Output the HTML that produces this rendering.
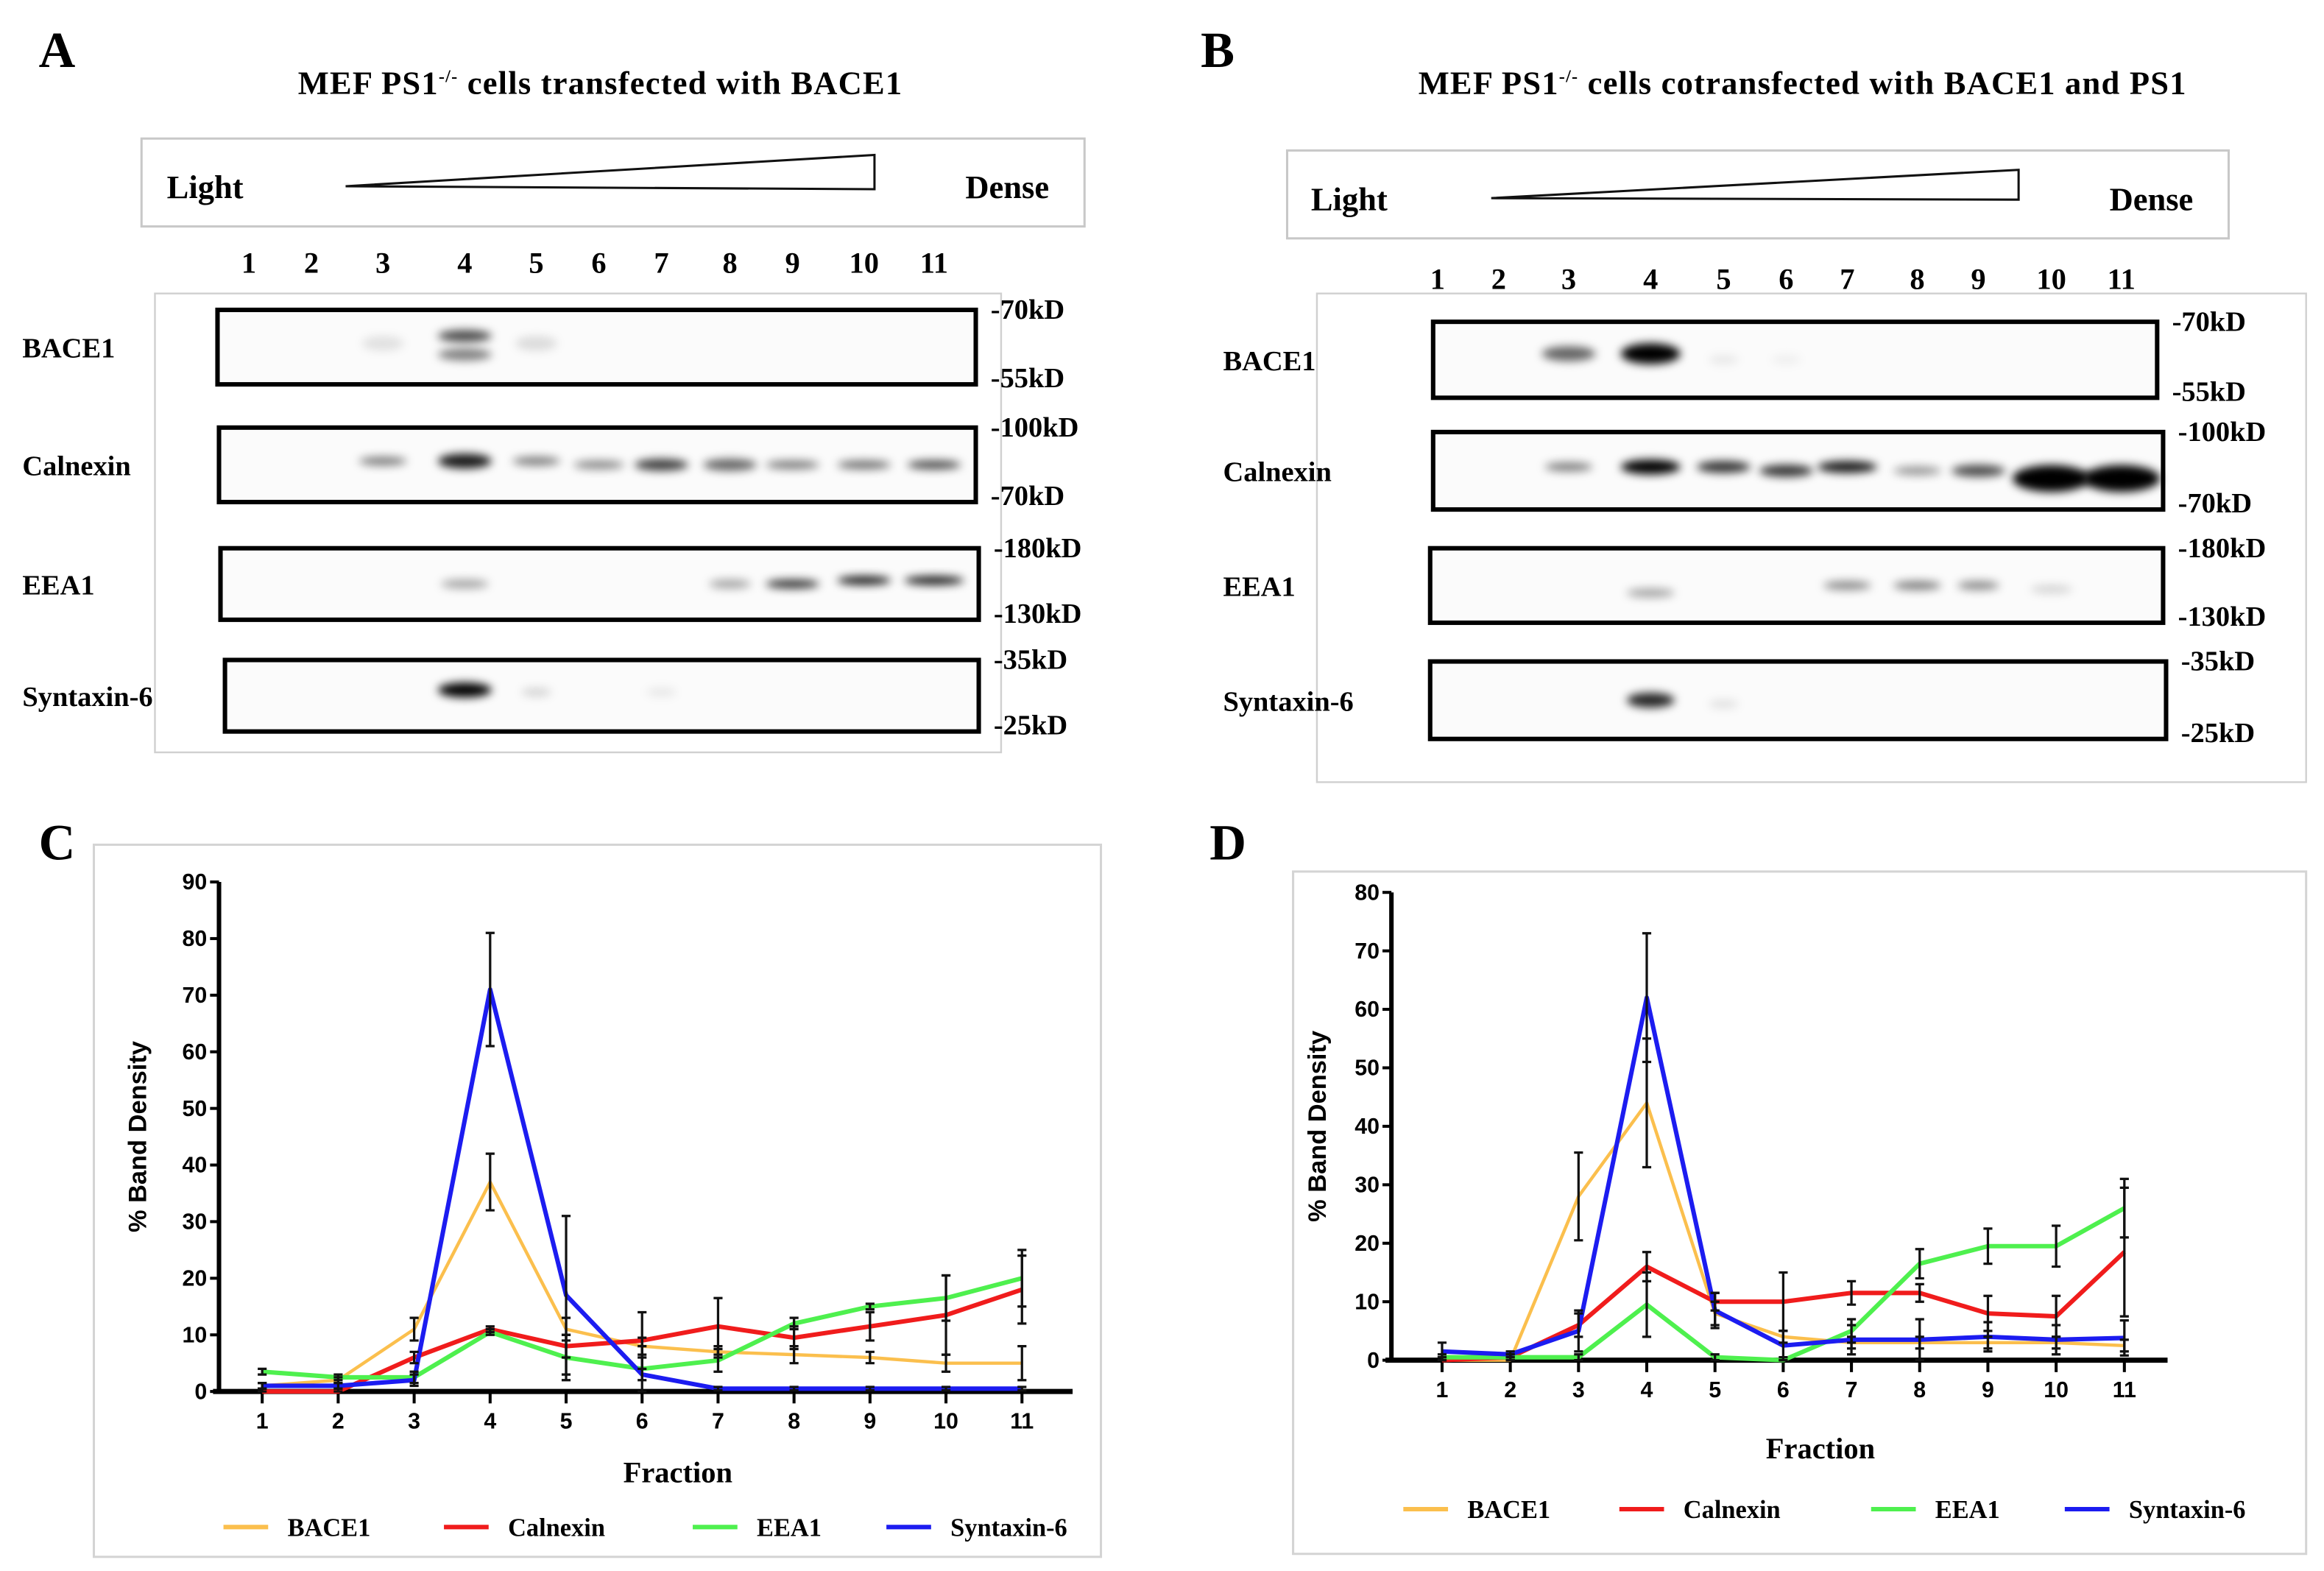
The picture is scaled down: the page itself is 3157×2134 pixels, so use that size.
<!DOCTYPE html>
<html><head><meta charset="utf-8"><style>
html,body{margin:0;padding:0;background:#fff}
svg{display:block}
.ser{font-family:"Liberation Serif",serif;font-weight:bold}
.san{font-family:"Liberation Sans",sans-serif;font-weight:bold}
</style></head><body>
<svg id="fig" width="3157" height="2134" viewBox="0 0 1560 1054.5" xmlns="http://www.w3.org/2000/svg">
<defs>
<filter id="blur" x="-50%" y="-100%" width="200%" height="300%"><feGaussianBlur stdDeviation="3"/></filter>
</defs>
<g id="panels"></g>
<g id="chartC"></g>
<g id="chartD"></g>
</svg>
<script>
const categories = [1,2,3,4,5,6,7,8,9,10,11];
const seriesNames = ["BACE1","Calnexin","EEA1","Syntaxin-6"];
const seriesColors = ["#fbbf4d","#f01c1c","#4ef04e","#1c1cf0"];
// Panel C values
const cBace1 = [1,2,11,37,11,8,7,6.5,6,5,5];
const cCalnexin = [0,0,6,11,8,9,11.5,9.5,11.5,13.5,18];
const cEea1 = [3.5,2.5,2.5,10.5,6,4,5.5,12,15,16.5,20];
const cSyntaxin = [1,1,2,71,17,3,0.5,0.5,0.5,0.5,0.5];
const cBace1Err = [0.5,0.5,2,5,2,1.5,1,1.5,1,1.5,3];
const cCalnexinErr = [0.5,0.5,1,0.5,2,5,5,2,2.5,7,6];
const cEea1Err = [0.5,0.5,1,0.5,4,2,2,1,0.5,4,5];
const cSyntaxinErr = [0.5,0.5,1,10,14,5,0.3,0.3,0.3,0.3,0.3];
const cYTicks = [0,10,20,30,40,50,60,70,80,90];
// Panel D values
const dBace1 = [0,0,28,44,8,4,3,3,3,3,2.5];
const dCalnexin = [0,0.5,6,16,10,10,11.5,11.5,8,7.5,18.5];
const dEea1 = [0.5,0.5,0.5,9.5,0.5,0,5,16.5,19.5,19.5,26];
const dSyntaxin = [1.5,1,5,62,8.5,2.5,3.5,3.5,4,3.5,3.8];
const dBace1Err = [0.5,0.5,7.5,11,2,1,1,1,1,1,1];
const dCalnexinErr = [0.5,0.5,2,2.5,1.5,5,2,1.5,3,3.5,11];
const dEea1Err = [0.5,0.5,0.5,5.5,0.5,0.5,2,2.5,3,3.5,5];
const dSyntaxinErr = [1.5,0.5,3.5,11,3,2.5,2.5,3.5,2.5,2.5,3];
const dYTicks = [0,10,20,30,40,50,60,70,80];

const NS="http://www.w3.org/2000/svg";
function mk(parent,tag,attrs,text){const e=document.createElementNS(NS,tag);for(const k in attrs)e.setAttribute(k,attrs[k]);if(text!==undefined)e.textContent=text;parent.appendChild(e);return e;}

const P=document.getElementById('panels');
function txt(x,y,s,size,cls,anchor,name){const t=mk(P,'text',{x:x,y:y,'font-size':size,class:cls,'text-anchor':anchor||'start'},s);


return t;}

function blotPanel(o){
  txt(o.letterX,45,o.letter,34,'ser','start','panel-letter-'+o.letter.toLowerCase());
  const tt=mk(P,'text',{x:o.titleX,y:63,'font-size':22,'letter-spacing':0.6,class:'ser','text-anchor':'middle'});
  
  
  tt.innerHTML=o.title;
  const gb=mk(P,'rect',{x:o.box[0],y:o.box[1],width:o.box[2],height:o.box[3],fill:'#fff',stroke:'#c8c8c8','stroke-width':1.5});
  
  
  const tri=mk(P,'polygon',{points:o.tri,fill:'#fff',stroke:'#111','stroke-width':1.5});
  
  
  txt(o.light[0],o.light[1],'Light',22,'ser','start','light-label');
  txt(o.dense[0],o.dense[1],'Dense',22,'ser','start','dense-label');
  o.lanes.forEach((x,i)=>txt(x,o.laneY,String(i+1),20,'ser','middle','lane-number'));
  const fr=mk(P,'rect',{x:o.frame[0],y:o.frame[1],width:o.frame[2],height:o.frame[3],fill:'none',stroke:'#d0d0d0','stroke-width':1.2});
  
  
  o.strips.forEach(s=>{
    const r=mk(P,'rect',{x:s.x,y:s.y,width:s.w,height:s.h,fill:'#fbfbfb',stroke:'#000','stroke-width':3});
    
    
    s.bands.forEach(b=>{
      const e=mk(P,'ellipse',{cx:o.lanes[b[0]-1],cy:s.y+s.h*b[3],rx:b[1],ry:b[4]||5,fill:'#000','fill-opacity':b[2],filter:'url(#blur)'});
      
      
    });
    txt(o.labelX,s.y+s.h/2+7,s.name,19,'ser','start','row-label-'+s.name.toLowerCase());
    txt(s.x+s.w+10,s.y+6,s.mw[0],19,'ser','start','mw-marker');
    txt(s.x+s.w+10,s.y+s.h+2,s.mw[1],19,'ser','start','mw-marker');
  });
}

blotPanel({letter:'A',letterX:26,titleX:403,title:'MEF PS1<tspan font-size="12" dy="-8">-/-</tspan><tspan dy="8"> cells transfected with BACE1</tspan>',
 box:[95,93,633,59],tri:'232,125 587,104 587,127',light:[112,133],dense:[648,133],laneY:183,
 lanes:[167,209,257,312,360,402,444,490,532,580,627],frame:[104,197,568,308],labelX:15,
 strips:[
  {name:'BACE1',x:146,y:208,w:509,h:50,mw:['-70kD','-55kD'],bands:[[3,14,0.1,0.45],[4,18,0.7,0.35,4],[4,18,0.5,0.6,4],[5,14,0.12,0.45]]},
  {name:'Calnexin',x:147,y:287,w:508,h:50,mw:['-100kD','-70kD'],bands:[[3,16,0.5,0.45,3],[4,18,0.9,0.45],[5,16,0.5,0.45,3],[6,17,0.45,0.5,3],[7,18,0.75,0.5,4],[8,18,0.6,0.5,4],[9,18,0.5,0.5,3],[10,18,0.55,0.5,3],[11,18,0.7,0.5,3]]},
  {name:'EEA1',x:148,y:368,w:509,h:48,mw:['-180kD','-130kD'],bands:[[4,16,0.35,0.5,3],[8,14,0.35,0.5,3],[9,18,0.8,0.5,3],[10,18,0.9,0.45,3],[11,20,0.9,0.45,3]]},
  {name:'Syntaxin-6',x:151,y:443,w:506,h:48,mw:['-35kD','-25kD'],bands:[[4,18,1,0.42,5],[5,10,0.15,0.45,3],[7,10,0.08,0.45,3]]}
 ]});
blotPanel({letter:'B',letterX:806,titleX:1210,title:'MEF PS1<tspan font-size="12" dy="-8">-/-</tspan><tspan dy="8"> cells cotransfected with BACE1 and PS1</tspan>',
 box:[864,101,632,59],tri:'1001,133 1355,114 1355,134',light:[880,141],dense:[1416,141],laneY:194,
 lanes:[965,1006,1053,1108,1157,1199,1240,1287,1328,1377,1424],frame:[884,197,664,328],labelX:821,
 strips:[
  {name:'BACE1',x:962,y:216,w:486,h:51,mw:['-70kD','-55kD'],bands:[[3,18,0.6,0.42,5],[4,20,1,0.42,7],[5,10,0.08,0.5,3],[6,10,0.05,0.5,3]]},
  {name:'Calnexin',x:962,y:290,w:490,h:52,mw:['-100kD','-70kD'],bands:[[3,16,0.5,0.45,3],[4,20,1,0.45,5],[5,18,0.8,0.45,4],[6,18,0.8,0.5,4],[7,20,0.9,0.45,4],[8,16,0.4,0.5,3],[9,18,0.7,0.5,4],[10,26,1,0.6,9],[11,26,1,0.6,9]]},
  {name:'EEA1',x:960,y:368,w:492,h:50,mw:['-180kD','-130kD'],bands:[[4,16,0.35,0.6,3],[7,16,0.45,0.5,3],[8,16,0.5,0.5,3],[9,14,0.45,0.5,3],[10,14,0.15,0.55,3]]},
  {name:'Syntaxin-6',x:960,y:444,w:494,h:52,mw:['-35kD','-25kD'],bands:[[4,16,0.85,0.5,5],[5,10,0.1,0.55,3]]}
 ]});

function chart(gid,o){
  const g=document.getElementById(gid);
  const X=i=>o.x1+(o.x11-o.x1)*(categories[i]-1)/(categories.length-1);
  const Y=v=>o.y0-(o.y0-o.yTop)*v/o.yMax;
  const fr=mk(g,'rect',{x:o.frame[0],y:o.frame[1],width:o.frame[2],height:o.frame[3],fill:'#fff',stroke:'#d4d4d4','stroke-width':1.5});
  
  
  const L=mk(g,'text',{x:o.letterX,y:o.letterY,'font-size':34,class:'ser'},o.letter);
  
  
  const ya=mk(g,'line',{x1:o.ax,y1:o.yTop,x2:o.ax,y2:o.y0,stroke:'#000','stroke-width':3});
  
  
  o.ticks.forEach(t=>{
    const tl=mk(g,'line',{x1:o.ax-6,y1:Y(t),x2:o.ax,y2:Y(t),stroke:'#000','stroke-width':2});
    
    
    const tx=mk(g,'text',{x:o.ax-8,y:Y(t)+5,'font-size':15,class:'san','text-anchor':'end'},String(t));
    
    
  });
  const yl=mk(g,'text',{x:o.ylx,y:(o.y0+o.yTop)/2,'font-size':17,class:'san','text-anchor':'middle',transform:`rotate(-90 ${o.ylx} ${(o.y0+o.yTop)/2})`},'% Band Density');
  
  
  const xa=mk(g,'line',{x1:o.ax-4,y1:o.y0,x2:o.axEnd,y2:o.y0,stroke:'#000','stroke-width':3.5});
  
  
  categories.forEach((c,i)=>{
    const tl=mk(g,'line',{x1:X(i),y1:o.y0,x2:X(i),y2:o.y0+8,stroke:'#000','stroke-width':2});
    
    
    const tx=mk(g,'text',{x:X(i),y:o.y0+25,'font-size':15,class:'san','text-anchor':'middle'},String(c));
    
    
  });
  const xl=mk(g,'text',{x:o.xlx,y:o.xly,'font-size':20,class:'ser','text-anchor':'middle'},'Fraction');
  
  
  o.series.forEach((s,k)=>{
    const pl=mk(g,'polyline',{points:s.map((v,i)=>X(i)+','+Y(v)).join(' '),fill:'none',stroke:seriesColors[k],'stroke-width':k===0?2.2:3,'stroke-linejoin':'round'});
    
    
  });
  o.series.forEach((s,k)=>{
    s.forEach((v,i)=>{
      const e=o.errs[k][i];const x=X(i);
      const eb=mk(g,'path',{d:`M${x},${Y(v+e)}V${Y(Math.max(0,v-e))}M${x-3},${Y(v+e)}h6M${x-3},${Y(Math.max(0,v-e))}h6`,stroke:'#111','stroke-width':1.6,fill:'none'});
      
      
    });
  });
  seriesNames.forEach((n,k)=>{
    const lx=o.legX[k];
    const ll=mk(g,'line',{x1:lx,y1:o.legY,x2:lx+30,y2:o.legY,stroke:seriesColors[k],'stroke-width':3});
    
    
    const lt=mk(g,'text',{x:lx+43,y:o.legY+6,'font-size':17,class:'ser'},n);
    
    
  });
}
chart('chartC',{frame:[63,567,676,478],letter:'C',letterX:26,letterY:577,ax:147,y0:934,yTop:592,yMax:90,x1:176,x11:686,axEnd:720,
 ticks:cYTicks,ylx:98,xlx:455,xly:995,legY:1025,legX:[150,298,465,595],
 series:[cBace1,cCalnexin,cEea1,cSyntaxin],errs:[cBace1Err,cCalnexinErr,cEea1Err,cSyntaxinErr]});
chart('chartD',{frame:[868,585,680,458],letter:'D',letterX:812,letterY:577,ax:934,y0:913,yTop:599,yMax:80,x1:968,x11:1426,axEnd:1455,
 ticks:dYTicks,ylx:890,xlx:1222,xly:979,legY:1013,legX:[942,1087,1256,1386],
 series:[dBace1,dCalnexin,dEea1,dSyntaxin],errs:[dBace1Err,dCalnexinErr,dEea1Err,dSyntaxinErr]});
</script>
</body></html>
